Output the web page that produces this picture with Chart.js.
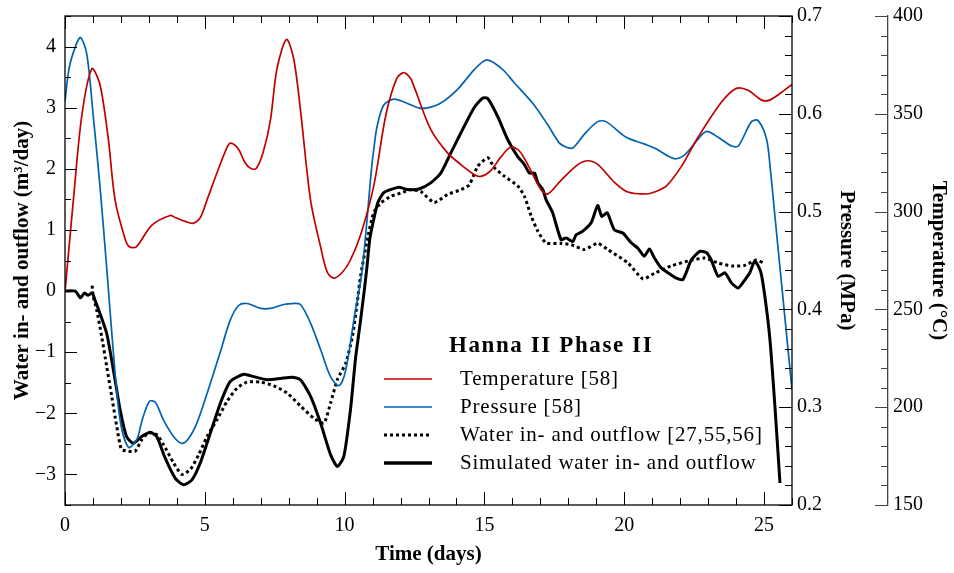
<!DOCTYPE html>
<html>
<head>
<meta charset="utf-8">
<script src="https://cdn.jsdelivr.net/npm/chart.js@4.4.1/dist/chart.umd.min.js"></script>
<style>
  html, body { margin: 0; padding: 0; background: #fff; }
  canvas { display: block; }
</style>
</head>
<body>
<canvas id="myChart" width="954" height="573"></canvas>
<script>
// temperature [58], degC
const tempDays = [0, 0.3, 0.6, 0.96, 1.25, 1.55, 1.79, 2.15, 2.3, 2.55, 3.1, 3.76, 3.94, 4.3, 4.57, 4.84, 5.08, 5.44, 5.8, 5.94, 6.2, 6.44, 6.65, 6.84, 7.1, 7.35, 7.58, 7.92, 8.18, 8.42, 8.78, 9.14, 9.38, 9.62, 9.92, 10.2, 10.57, 11.04, 11.47, 11.86, 12.12, 12.36, 12.48, 13.08, 13.68, 14.16, 14.63, 14.87, 15.23, 15.59, 15.95, 16.25, 16.55, 17.03, 17.27, 17.74, 18.34, 18.7, 19.06, 19.65, 20.13, 20.79, 21.08, 21.5, 22.04, 22.64, 23.48, 24.01, 24.43, 24.91, 25.2, 25.63, 26];
const tempValues = [259, 306, 349, 373, 365, 337, 306, 286, 282, 282, 293, 298, 297, 295, 294, 297, 306, 320, 333, 335, 332, 325, 322, 322, 331, 347, 373, 388, 378, 352, 306, 282, 269, 266, 269, 275, 288, 313, 349, 368, 371, 368, 364, 342, 330, 324, 319, 318, 321, 328, 333, 331, 324, 311, 309, 316, 324, 326, 324, 315, 310, 309, 310, 313, 323, 338, 356, 363, 362, 357, 357, 361, 365];

// pressure [58], MPa
const pressureDays = [0, 0.15, 0.4, 0.56, 0.78, 1.01, 1.25, 1.49, 1.73, 1.97, 2.27, 2.57, 2.75, 3.02, 3.23, 3.52, 3.88, 4.18, 4.42, 4.72, 5.08, 5.56, 5.91, 6.21, 6.51, 6.99, 7.35, 7.82, 8.12, 8.42, 8.78, 9.14, 9.5, 9.8, 10.04, 10.33, 10.63, 10.96, 11.04, 11.16, 11.4, 11.76, 12.12, 12.66, 12.96, 13.44, 14.04, 14.63, 15.05, 15.35, 15.7, 16.06, 16.72, 17.26, 17.68, 17.92, 18.16, 18.57, 19.05, 19.35, 20.07, 20.73, 21.08, 21.5, 21.83, 22.16, 22.58, 22.94, 23.36, 23.84, 24.08, 24.55, 24.79, 25.09, 25.22, 25.39, 26];
const pressureValues = [0.613, 0.647, 0.671, 0.678, 0.661, 0.598, 0.526, 0.443, 0.356, 0.287, 0.259, 0.267, 0.286, 0.306, 0.305, 0.287, 0.270, 0.263, 0.268, 0.284, 0.314, 0.357, 0.389, 0.404, 0.406, 0.401, 0.401, 0.405, 0.406, 0.405, 0.386, 0.359, 0.331, 0.322, 0.338, 0.389, 0.441, 0.543, 0.563, 0.587, 0.609, 0.615, 0.612, 0.606, 0.606, 0.611, 0.625, 0.645, 0.655, 0.652, 0.644, 0.632, 0.611, 0.589, 0.570, 0.566, 0.565, 0.579, 0.592, 0.592, 0.576, 0.569, 0.565, 0.558, 0.554, 0.558, 0.572, 0.582, 0.576, 0.567, 0.567, 0.592, 0.593, 0.574, 0.545, 0.495, 0.318];

// water in- and outflow [27,55,56], m3/day
const measDays = [0.97, 1.01, 1.13, 1.31, 1.49, 1.67, 1.85, 2.02, 2.27, 2.51, 2.75, 2.99, 3.28, 3.52, 3.88, 4.18, 4.48, 4.78, 5.08, 5.44, 5.8, 6.15, 6.51, 6.99, 7.47, 7.95, 8.42, 8.9, 9.26, 9.5, 9.74, 10.04, 10.28, 10.45, 10.57, 10.81, 11.04, 11.29, 11.65, 12.0, 12.36, 12.72, 13.2, 13.68, 14.16, 14.46, 14.76, 15.12, 15.35, 15.71, 16.19, 16.43, 16.67, 16.91, 17.2, 17.74, 18.1, 18.57, 19.05, 19.41, 20.13, 20.67, 21.08, 21.68, 22.28, 22.88, 23.36, 23.84, 24.31, 24.73, 24.97];
const measValues = [0.09, -0.09, -0.3, -0.74, -1.23, -1.72, -2.21, -2.59, -2.62, -2.62, -2.43, -2.32, -2.35, -2.51, -2.81, -3.0, -2.92, -2.68, -2.38, -2.1, -1.8, -1.59, -1.49, -1.49, -1.55, -1.67, -1.88, -2.08, -2.16, -1.83, -1.45, -1.18, -0.74, -0.19, 0.24, 0.84, 1.28, 1.44, 1.55, 1.6, 1.66, 1.63, 1.45, 1.58, 1.66, 1.74, 2.04, 2.18, 2.02, 1.88, 1.72, 1.55, 1.23, 0.98, 0.79, 0.78, 0.76, 0.68, 0.78, 0.68, 0.46, 0.2, 0.29, 0.41, 0.49, 0.54, 0.46, 0.41, 0.42, 0.51, 0.46];

// simulated water in- and outflow, m3/day
const simDays = [0, 0.37, 0.55, 0.7, 0.82, 0.97, 1.09, 1.2, 1.49, 1.73, 1.97, 2.2, 2.44, 2.74, 3.05, 3.28, 3.58, 3.94, 4.24, 4.54, 4.84, 5.2, 5.56, 5.91, 6.39, 6.75, 7.23, 7.71, 8.12, 8.42, 8.78, 9.14, 9.5, 9.74, 9.97, 10.21, 10.39, 10.55, 10.7, 10.8, 10.9, 11.04, 11.19, 11.4, 11.64, 11.94, 12.24, 12.66, 13.08, 13.44, 13.8, 14.16, 14.63, 14.94, 15.12, 15.47, 15.83, 16.19, 16.43, 16.61, 16.79, 16.91, 17.09, 17.2, 17.44, 17.74, 17.92, 18.16, 18.28, 18.52, 18.82, 19.05, 19.2, 19.39, 19.65, 19.95, 20.25, 20.49, 20.72, 20.9, 21.08, 21.32, 21.56, 21.86, 22.1, 22.4, 22.7, 22.94, 23.12, 23.36, 23.6, 23.84, 24.08, 24.31, 24.49, 24.67, 24.88, 25.03, 25.21, 25.39, 25.57];
const simValues = [0, 0, -0.11, -0.03, -0.07, -0.03, -0.17, -0.3, -0.69, -1.29, -1.94, -2.38, -2.49, -2.38, -2.31, -2.38, -2.73, -3.06, -3.17, -3.09, -2.81, -2.32, -1.83, -1.48, -1.36, -1.40, -1.45, -1.43, -1.41, -1.45, -1.72, -2.16, -2.68, -2.87, -2.71, -1.94, -1.1, -0.55, 0.0, 0.4, 0.85, 1.17, 1.45, 1.61, 1.66, 1.70, 1.66, 1.67, 1.77, 1.93, 2.26, 2.59, 3.0, 3.16, 3.15, 2.86, 2.48, 2.2, 2.07, 1.93, 1.93, 1.77, 1.66, 1.5, 1.28, 0.84, 0.87, 0.81, 0.92, 0.98, 1.12, 1.40, 1.22, 1.28, 1.0, 0.95, 0.79, 0.7, 0.57, 0.69, 0.54, 0.38, 0.30, 0.21, 0.19, 0.51, 0.65, 0.63, 0.5, 0.24, 0.3, 0.13, 0.05, 0.18, 0.3, 0.49, 0.32, -0.09, -0.79, -1.89, -3.14];

// tick labels
const waterTicks = [-3, -2, -1, 0, 1, 2, 3, 4];
const pressureTicks = [0.2, 0.3, 0.4, 0.5, 0.6, 0.7];
const tempTicks = [150, 200, 250, 300, 350, 400];
const dayTicks = [0, 5, 10, 15, 20, 25];

const legendLabels = ['Temperature [58]', 'Pressure [58]', 'Water in- and outflow [27,55,56]', 'Simulated water in- and outflow'];
const legendTitle = 'Hanna II Phase II';

const RED = '#c00000';
const BLUE = '#0062b0';

function toPoints(xs, ys) {
  return xs.map((x, i) => ({ x, y: ys[i] }));
}

function minus(v) {
  return v < 0 ? '\u2212' + Math.abs(v) : String(v);
}

// fixed axis sizes, no extra label overhang padding
function fixSize(w, h) {
  return (scale) => {
    if (w) scale.width = w;
    if (h) scale.height = h;
    scale.paddingTop = 0;
    scale.paddingBottom = 0;
    scale.paddingLeft = 0;
    scale.paddingRight = 0;
  };
}

function setTicks(values) {
  return (scale) => {
    scale.ticks = values.map((v) => ({ value: v }));
  };
}

Chart.defaults.font.family = "'Liberation Serif', 'DejaVu Serif', serif";
Chart.defaults.color = '#000';

// inward tick marks, frame and the in-plot legend
const frameAndTicks = {
  id: 'frameAndTicks',
  afterDraw(chart) {
    const { ctx, chartArea: a, scales } = chart;
    const line = (x1, y1, x2, y2) => {
      ctx.beginPath();
      ctx.moveTo(x1, y1);
      ctx.lineTo(x2, y2);
      ctx.stroke();
    };
    ctx.save();
    ctx.strokeStyle = '#000';
    ctx.lineWidth = 1.3;
    ctx.strokeRect(a.left, a.top, a.right - a.left, a.bottom - a.top);

    ctx.lineWidth = 1;
    for (let d = 0; d <= 26; d++) {
      const x = Math.round(scales.x.getPixelForValue(d)) + 0.5;
      const len = d % 5 === 0 ? 13 : 7;
      line(x, a.bottom, x, a.bottom - len);
      line(x, a.top, x, a.top + len);
    }
    for (let k = -7; k <= 9; k++) {
      const y = Math.round(scales.y.getPixelForValue(k / 2)) + 0.5;
      line(a.left, y, a.left + (k % 2 === 0 ? 12 : 6), y);
    }
    for (let k = 10; k <= 35; k++) {
      const y = Math.round(scales.yP.getPixelForValue(k / 50)) + 0.5;
      line(a.right, y, a.right - (k % 5 === 0 ? 13 : 7), y);
    }
    ctx.strokeStyle = '#444';
    const tx = scales.yT.left;
    for (let t = 150; t <= 400; t += 10) {
      const y = Math.round(scales.yT.getPixelForValue(t)) + 0.5;
      line(tx, y, tx - (t % 50 === 0 ? 13 : 7), y);
    }

    // legend
    ctx.fillStyle = '#000';
    ctx.textBaseline = 'middle';
    ctx.textAlign = 'left';
    ctx.font = "bold 23px 'Liberation Serif'";
    ctx.letterSpacing = '1.6px';
    ctx.fillText(legendTitle, 449, 346);

    const rows = [379, 407, 435, 463];
    const styles = [
      { color: RED, width: 1.7, dash: [] },
      { color: BLUE, width: 1.7, dash: [] },
      { color: '#000', width: 3, dash: [3, 3] },
      { color: '#000', width: 3.5, dash: [] },
    ];
    ctx.font = "21px 'Liberation Serif'";
    ctx.letterSpacing = '0.8px';
    rows.forEach((y, i) => {
      const s = styles[i];
      ctx.strokeStyle = s.color;
      ctx.lineWidth = s.width;
      ctx.setLineDash(s.dash);
      line(384, y, 432, y);
      ctx.setLineDash([]);
      ctx.fillText(legendLabels[i], 460, y);
    });
    ctx.letterSpacing = '0px';
    ctx.restore();
  },
};

const ctx = document.getElementById('myChart').getContext('2d');
window.myChart = new Chart(ctx, {
  type: 'line',
  data: {
    datasets: [
      {
        label: legendLabels[0],
        data: toPoints(tempDays, tempValues),
        yAxisID: 'yT',
        borderColor: RED,
        borderWidth: 1.7,
        tension: 0.3,
      },
      {
        label: legendLabels[1],
        data: toPoints(pressureDays, pressureValues),
        yAxisID: 'yP',
        borderColor: BLUE,
        borderWidth: 1.7,
        tension: 0.3,
      },
      {
        label: legendLabels[2],
        data: toPoints(measDays, measValues),
        yAxisID: 'y',
        borderColor: '#000',
        borderWidth: 3,
        borderDash: [3, 3],
        tension: 0.2,
      },
      {
        label: legendLabels[3],
        data: toPoints(simDays, simValues),
        yAxisID: 'y',
        borderColor: '#000',
        borderWidth: 3,
        tension: 0.2,
      },
    ],
  },
  options: {
    responsive: false,
    animation: false,
    layout: { padding: { top: 16, left: 0, right: 0, bottom: 0 } },
    elements: { point: { radius: 0 } },
    plugins: { legend: { display: false }, tooltip: { enabled: false } },
    scales: {
      x: {
        type: 'linear',
        min: 0,
        max: 26,
        grid: { display: false, drawTicks: false },
        border: { display: false },
        afterBuildTicks: setTicks(dayTicks),
        ticks: { padding: 9, font: { size: 20 } },
        title: {
          display: true,
          text: 'Time (days)',
          font: { size: 21, weight: 'bold' },
          padding: { bottom: 6 },
        },
        afterFit: fixSize(0, 68),
      },
      y: {
        position: 'left',
        min: -3.5,
        max: 4.5,
        grid: { display: false, drawTicks: false },
        border: { display: false },
        afterBuildTicks: setTicks(waterTicks),
        ticks: { padding: 9, font: { size: 20 }, callback: (v) => minus(v) },
        title: {
          display: true,
          text: 'Water in- and outflow (m\u00b3/day)',
          font: { size: 21, weight: 'bold' },
          padding: { top: 10 },
        },
        afterFit: fixSize(65, 0),
      },
      yP: {
        position: 'right',
        weight: 1,
        min: 0.2,
        max: 0.7,
        grid: { display: false, drawTicks: false },
        border: { display: false },
        afterBuildTicks: setTicks(pressureTicks),
        ticks: { padding: 5, font: { size: 20 }, callback: (v) => v.toFixed(1) },
        title: {
          display: true,
          text: 'Pressure (MPa)',
          font: { size: 21, weight: 'bold' },
          padding: { top: 29 },
        },
        afterFit: fixSize(96, 0),
      },
      yT: {
        position: 'right',
        weight: 2,
        min: 150,
        max: 400,
        grid: { display: false, drawTicks: false },
        border: { display: true, color: '#444', width: 1.3 },
        afterBuildTicks: setTicks(tempTicks),
        ticks: { padding: 5, font: { size: 20 } },
        title: {
          display: true,
          text: 'Temperature (\u00b0C)',
          font: { size: 21, weight: 'bold' },
          padding: { top: 3 },
        },
        afterFit: fixSize(66, 0),
      },
    },
  },
  plugins: [frameAndTicks],
});
</script>
</body>
</html>
